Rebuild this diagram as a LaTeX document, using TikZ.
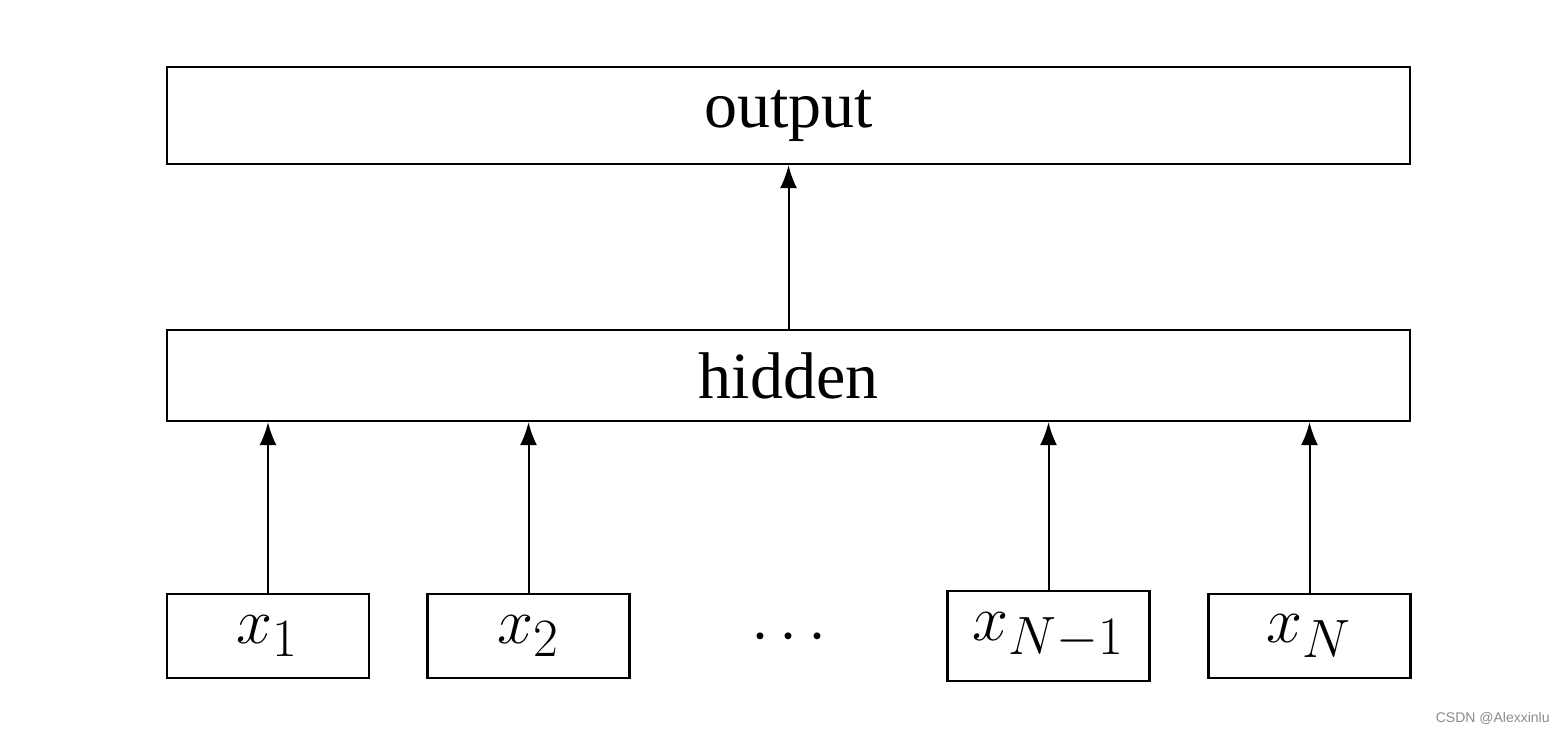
\documentclass[tikz,border=0pt]{standalone}
\usepackage[no-math]{fontspec}
\setmainfont{Liberation Serif}
\newfontfamily\wmfont{Liberation Sans}
\usetikzlibrary{arrows.meta}
\newcommand{\largemath}[1]{\scalebox{1.3}{$#1$}}
\tikzset{
  layerbox/.style={draw, line width=1.1pt, inner sep=0pt, minimum width=621.5pt, font=\fontsize{33}{38}\selectfont},
  inbox/.style={draw, line width=1.1pt, inner sep=0pt, minimum width=101pt, minimum height=42pt, font=\fontsize{24.88}{30}\selectfont},
  arr/.style={line width=1pt, -{Latex[length=11.5pt,width=8.5pt]}},
}
\begin{document}
\begin{tikzpicture}[x=0.5pt,y=-0.5pt]
\useasboundingbox[fill=white] (0,0) rectangle (1564,734);
\node[layerbox, minimum height=48.5pt] (out) at (788.5,115.5) {output};
\node[layerbox, minimum height=45.5pt] (hid) at (788.5,375.5) {hidden};
\node[inbox] (x1) at (268,636) {\largemath{x_1}};
\node[inbox] (x2) at (528.5,636) {\largemath{x_2}};
\node[inbox, minimum height=45pt] (xN1) at (1048.5,636) {\largemath{x_{N-1}}};
\node[inbox] (xN) at (1309.5,636) {\largemath{x_N}};
\node[font=\fontsize{24.88}{30}\selectfont] (dots) at (789,638) {\largemath{\cdots}};
\draw[arr] (hid.north) -- (out.south);
\draw[arr] (x1.north) -- (x1.north |- hid.south);
\draw[arr] (x2.north) -- (x2.north |- hid.south);
\draw[arr] (xN1.north) -- (xN1.north |- hid.south);
\draw[arr] (xN.north) -- (xN.north |- hid.south);
\node[font=\wmfont\fontsize{7}{8}\selectfont, text=black!45, anchor=east, inner sep=0pt] (wm) at (1550,718) {CSDN @Alexxinlu};
\end{tikzpicture}
\end{document}
